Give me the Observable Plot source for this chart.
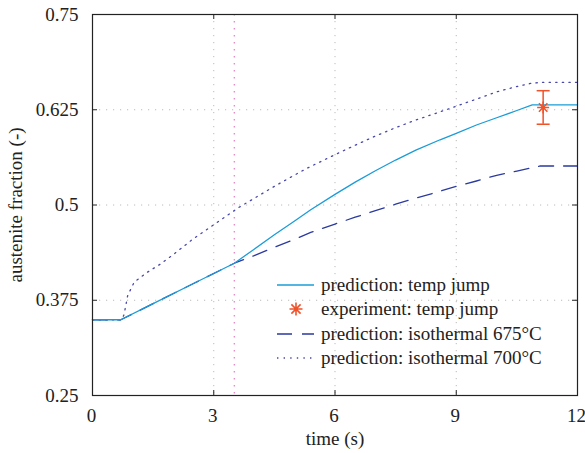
<!DOCTYPE html>
<html>
<head>
<meta charset="utf-8">
<script src="https://cdn.jsdelivr.net/npm/d3@7"></script>
<script src="https://cdn.jsdelivr.net/npm/@observablehq/plot@0.6"></script>
<style>
  html, body { margin: 0; padding: 0; background: #fff; }
  #wrap { position: relative; width: 585px; height: 453px; font-family: 'Liberation Serif', 'Times New Roman', Times, serif; }
  #wrap svg text { font-family: 'Liberation Serif', 'Times New Roman', Times, serif; }
  #legend { position: absolute; font-family: 'Liberation Serif', 'Times New Roman', Times, serif; font-size: 19px; color: #222; }
  #legend .row { display: flex; align-items: center; height: 24.3px; }
  #legend svg { display: block; margin-right: 6px; }
</style>
</head>
<body>
<div id="wrap"></div>
<script>
// ---- data ----
const xTicks = [0, 3, 6, 9, 12];
const yTicks = [0.25, 0.375, 0.5, 0.625, 0.75];
const yTickLabels = ["0.25", "0.375", "0.5", "0.625", "0.75"];

const tJump = [0, 0.7, 1.5, 2.5, 3.51, 4.0, 4.5, 5.0, 5.4, 6.0, 6.5, 7.0, 7.5, 8.0, 8.6, 9.0, 9.5, 10.0, 10.5, 10.88, 12];
const fJump = [0.3494, 0.3494, 0.3705, 0.397, 0.4236, 0.442, 0.461, 0.479, 0.4937, 0.514, 0.530, 0.545, 0.559, 0.572, 0.5856, 0.594, 0.605, 0.6145, 0.624, 0.6315, 0.6315];

const t675 = [0, 0.7, 1.5, 2.5, 3.51, 4.0, 4.5, 5.0, 5.4, 6.0, 6.5, 7.0, 7.5, 8.0, 8.5, 9.0, 9.5, 10.0, 10.5, 10.82, 11.08, 12];
const f675 = [0.3494, 0.3494, 0.3705, 0.397, 0.4236, 0.4335, 0.4445, 0.455, 0.464, 0.475, 0.484, 0.4925, 0.501, 0.509, 0.5165, 0.5245, 0.5315, 0.539, 0.5445, 0.5483, 0.5512, 0.5512];

const t700 = [0, 0.72, 0.78, 0.87, 1.03, 1.36, 1.69, 2.0, 2.47, 3.0, 3.63, 4.5, 5.28, 6.0, 6.5, 7.0, 7.5, 8.0, 8.75, 9.5, 10.0, 10.5, 10.84, 11.1, 12];
const f700 = [0.3494, 0.3494, 0.356, 0.381, 0.3987, 0.4118, 0.4228, 0.435, 0.4547, 0.474, 0.4971, 0.5245, 0.5475, 0.566, 0.5785, 0.5905, 0.6015, 0.6115, 0.625, 0.639, 0.6485, 0.6555, 0.6595, 0.661, 0.661];

const expTime = [11.15];
const expValue = [0.628];
const expError = [0.022];

const switchTime = [3.51];

const seriesNames = ["prediction: temp jump", "experiment: temp jump", "prediction: isothermal 675°C", "prediction: isothermal 700°C"];
const colors = { jump: "#1a9cd8", exp: "#f0522a", i675: "#2a3a9e", i700: "#4848a8", switch: "#e58cc8" };

// ---- build tables ----
const jump = tJump.map((t, i) => ({ t, f: fJump[i] }));
const iso675 = t675.map((t, i) => ({ t, f: f675[i] }));
const iso700 = t700.map((t, i) => ({ t, f: f700[i] }));
const exp = expTime.map((t, i) => ({ t, f: expValue[i], lo: expValue[i] - expError[i], hi: expValue[i] + expError[i] }));

// symbols: horizontal error-bar cap, and MATLAB-style 8-armed asterisk
const capSymbol = { draw(ctx, size) { const r = Math.sqrt(size / Math.PI); ctx.moveTo(-r, 0); ctx.lineTo(r, 0); } };
const starSymbol = { draw(ctx, size) {
  const r = Math.sqrt(size / Math.PI), k = r * Math.SQRT1_2;
  ctx.moveTo(-r, 0); ctx.lineTo(r, 0);
  ctx.moveTo(0, -r); ctx.lineTo(0, r);
  ctx.moveTo(-k, -k); ctx.lineTo(k, k);
  ctx.moveTo(-k, k); ctx.lineTo(k, -k);
} };

const W = 585, H = 453, mL = 92, mR = 8, mT = 14, mB = 58;
const frameW = W - mL - mR, frameH = H - mT - mB, tickLen = 5;
const FONT = "'Liberation Serif', 'Times New Roman', Times, serif";

const chart = Plot.plot({
  width: W,
  height: H,
  marginLeft: mL,
  marginRight: mR,
  marginTop: mT,
  marginBottom: mB,
  style: { fontFamily: FONT, fontSize: "19px", color: "#222", background: "#fff" },
  x: { domain: [0, 12], ticks: xTicks },
  y: { domain: [0.25, 0.75], ticks: yTicks },
  marks: [
    Plot.gridX(xTicks.slice(1, -1), { stroke: "#bbb", strokeOpacity: 1, strokeDasharray: "1.2,5.8" }),
    Plot.gridY(yTicks.slice(1, -1), { stroke: "#bbb", strokeOpacity: 1, strokeDasharray: "1.2,5.8" }),
    Plot.ruleX(switchTime, { stroke: colors.switch, strokeDasharray: "1.4,5.6", strokeWidth: 1.4 }),
    Plot.line(iso700, { x: "t", y: "f", stroke: colors.i700, strokeWidth: 1.3, strokeDasharray: "1.4,5.2" }),
    Plot.line(iso675, { x: "t", y: "f", stroke: colors.i675, strokeWidth: 1.3, strokeDasharray: "15,10" }),
    Plot.line(jump, { x: "t", y: "f", stroke: colors.jump, strokeWidth: 1.3 }),
    Plot.ruleX(exp, { x: "t", y1: "lo", y2: "hi", stroke: colors.exp, strokeWidth: 1.5 }),
    Plot.dot(exp, { x: "t", y: "lo", symbol: capSymbol, r: 6.5, stroke: colors.exp, strokeWidth: 1.5 }),
    Plot.dot(exp, { x: "t", y: "hi", symbol: capSymbol, r: 6.5, stroke: colors.exp, strokeWidth: 1.5 }),
    Plot.dot(exp, { x: "t", y: "f", symbol: starSymbol, r: 6, stroke: colors.exp, strokeWidth: 1.5 }),
    Plot.frame({ stroke: "#222", strokeWidth: 1.2 }),
    // inward ticks on all four sides
    Plot.tickX(xTicks, { x: (d) => d, insetTop: frameH - tickLen, stroke: "#222" }),
    Plot.tickX(xTicks, { x: (d) => d, insetBottom: frameH - tickLen, stroke: "#222" }),
    Plot.tickY(yTicks, { y: (d) => d, insetRight: frameW - tickLen, stroke: "#222" }),
    Plot.tickY(yTicks, { y: (d) => d, insetLeft: frameW - tickLen, stroke: "#222" }),
    Plot.axisX({ anchor: "bottom", ticks: xTicks, tickSize: 0, tickPadding: 13, fontSize: 19, fontFamily: FONT, fill: "#222",
      label: null, dx: -1 }),
    Plot.axisX({ anchor: "bottom", ticks: [], tickSize: 0,
      label: "time (s)", labelAnchor: "center", labelArrow: "none", labelOffset: 49, fontSize: 19, fontFamily: FONT, fill: "#222" }),
    Plot.axisY({ anchor: "left", ticks: yTicks, tickFormat: (d) => yTickLabels[yTicks.indexOf(d)], tickSize: 0, tickPadding: 14, fontSize: 19, fontFamily: FONT, fill: "#222",
      label: "austenite fraction (-)", labelAnchor: "center", labelArrow: "none", labelOffset: 84 })
  ]
});

const wrap = document.getElementById("wrap");
wrap.appendChild(chart);

// ---- legend (HTML overlay) ----
const legend = document.createElement("div");
legend.id = "legend";
legend.style.left = "277px";
legend.style.top = "273px";
const ns = "http://www.w3.org/2000/svg";
const samples = [
  { type: "line", color: colors.jump, dash: null },
  { type: "star", color: colors.exp },
  { type: "line", color: colors.i675, dash: "15,10" },
  { type: "line", color: colors.i700, dash: "1.4,5.2" }
];
seriesNames.forEach((name, i) => {
  const row = document.createElement("div");
  row.className = "row";
  const s = document.createElementNS(ns, "svg");
  s.setAttribute("width", 38); s.setAttribute("height", 20);
  const spec = samples[i];
  if (spec.type === "line") {
    const l = document.createElementNS(ns, "line");
    l.setAttribute("x1", 0); l.setAttribute("x2", 37); l.setAttribute("y1", 10); l.setAttribute("y2", 10);
    l.setAttribute("stroke", spec.color); l.setAttribute("stroke-width", 1.3);
    if (spec.dash) l.setAttribute("stroke-dasharray", spec.dash);
    s.appendChild(l);
  } else {
    const p = document.createElementNS(ns, "path");
    p.setAttribute("d", d3.symbol(starSymbol, Math.PI * 6.5 * 6.5)());
    p.setAttribute("transform", "translate(19,10)");
    p.setAttribute("stroke", spec.color); p.setAttribute("stroke-width", 1.6); p.setAttribute("fill", "none");
    s.appendChild(p);
  }
  row.appendChild(s);
  const span = document.createElement("span");
  span.textContent = name;
  row.appendChild(span);
  legend.appendChild(row);
});
wrap.appendChild(legend);
</script>
</body>
</html>
